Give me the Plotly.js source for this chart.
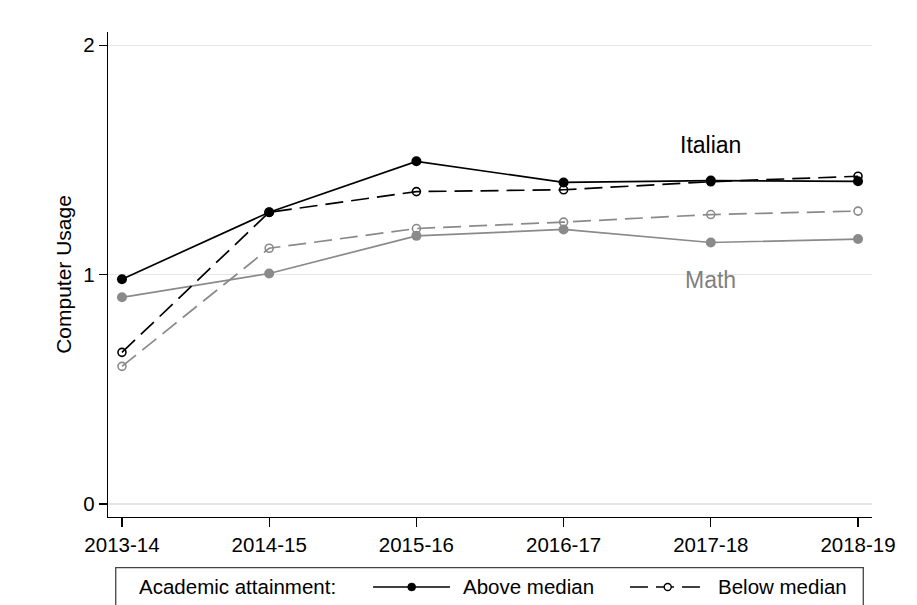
<!DOCTYPE html>
<html>
<head>
<meta charset="utf-8">
<script src="https://cdn.plot.ly/plotly-3.0.1.min.js"></script>
<style>
  html, body { margin: 0; padding: 0; background: #fff; }
  #chart { width: 917px; height: 605px; }
</style>
</head>
<body>
<div id="chart"></div>
<script>
// School years on the horizontal axis
const years = ["2013-14", "2014-15", "2015-16", "2016-17", "2017-18", "2018-19"];

// Computer usage by subject and academic attainment group
const italianAbove = [0.98, 1.272, 1.494, 1.402, 1.410, 1.407];
const italianBelow = [0.661, 1.272, 1.362, 1.370, 1.405, 1.429];
const mathAbove    = [0.901, 1.005, 1.169, 1.197, 1.140, 1.155];
const mathBelow    = [0.600, 1.115, 1.201, 1.229, 1.262, 1.277];

const yTicks = [0, 1, 2];

// Legend wording
const legendTitle = "Academic attainment:";
const legendLabels = ["Above median", "Below median"];

const BLACK = "#000000";
const GRAY = "#8a8a8a";
const FONT = "Liberation Sans, Arial, Helvetica, sans-serif";
const DASH = "18px,8px";
const LINE_W = 1.7;

function series(y, color, filled, dashed, name) {
  return {
    type: "scatter",
    mode: "lines+markers",
    x: years,
    y: y,
    name: name,
    showlegend: false,
    line: { color: color, width: LINE_W, dash: dashed ? DASH : "solid" },
    marker: filled
      ? { symbol: "circle", size: 10, color: color, line: { width: 0 } }
      : { symbol: "circle-open", size: 8, color: color, line: { width: 1.6, color: color } },
    hoverinfo: "x+y"
  };
}

const traces = [
  series(mathAbove, GRAY, true, false, "Math, above median"),
  series(mathBelow, GRAY, false, true, "Math, below median"),
  series(italianAbove, BLACK, true, false, "Italian, above median"),
  series(italianBelow, BLACK, false, true, "Italian, below median")
];

// Legend box below the plot (paper coordinates), with line keys in the series styles
const KEY_Y = -0.1443;
const legendShapes = [
  { type: "rect", xref: "paper", yref: "paper", x0: 0.0101, x1: 0.9886, y0: -0.1045, y1: -0.23,
    line: { color: "#444", width: 1.3 }, fillcolor: "rgba(0,0,0,0)", layer: "above" },
  { type: "line", xref: "paper", yref: "paper", x0: 0.3469, x1: 0.4476, y0: KEY_Y, y1: KEY_Y,
    line: { color: BLACK, width: LINE_W } },
  { type: "circle", xref: "paper", yref: "paper", xsizemode: "pixel", ysizemode: "pixel",
    xanchor: 0.3975, yanchor: KEY_Y, x0: -4, x1: 4, y0: -4, y1: 4,
    fillcolor: BLACK, line: { color: BLACK, width: 0.5 } },
  { type: "line", xref: "paper", yref: "paper", x0: 0.6832, x1: 0.7827, y0: KEY_Y, y1: KEY_Y,
    line: { color: BLACK, width: LINE_W, dash: DASH } },
  { type: "circle", xref: "paper", yref: "paper", xsizemode: "pixel", ysizemode: "pixel",
    xanchor: 0.7326, yanchor: KEY_Y, x0: -3.5, x1: 3.5, y0: -3.5, y1: 3.5,
    fillcolor: "#ffffff", line: { color: BLACK, width: 1.4 } }
];

const legendText = [
  { text: legendTitle, x: 0.0380 },
  { text: legendLabels[0], x: 0.4620 },
  { text: legendLabels[1], x: 0.7958 }
].map(t => ({
  x: t.x, y: KEY_Y, xref: "paper", yref: "paper", xanchor: "left", yanchor: "middle",
  text: t.text, showarrow: false, font: { family: FONT, size: 20.5, color: "#000" }
}));

const layout = {
  width: 917,
  height: 605,
  paper_bgcolor: "#ffffff",
  plot_bgcolor: "#ffffff",
  font: { family: FONT, size: 20.5, color: "#000" },
  margin: { l: 108, r: 45, t: 32, b: 88, pad: 0 },
  showlegend: false,
  xaxis: {
    type: "category",
    range: [-0.095, 5.095],
    tickvals: years,
    ticktext: years,
    showgrid: false,
    zeroline: false,
    showline: true,
    linecolor: "#000",
    linewidth: 1.3,
    ticks: "outside",
    ticklen: 9,
    tickwidth: 1.3,
    tickcolor: "#000",
    tickfont: { family: FONT, size: 20.5, color: "#000" },
    automargin: false,
    fixedrange: true
  },
  yaxis: {
    range: [-0.057, 2.058],
    tickvals: yTicks,
    ticktext: yTicks.map(String),
    showgrid: true,
    gridcolor: "#e6e6e6",
    gridwidth: 1.5,
    zeroline: false,
    showline: true,
    linecolor: "#000",
    linewidth: 1.3,
    ticks: "outside",
    ticklen: 8,
    tickwidth: 1.3,
    tickcolor: "#000",
    tickfont: { family: FONT, size: 20.5, color: "#000" },
    title: { text: "Computer Usage", font: { family: FONT, size: 21, color: "#000" }, standoff: 5 },
    automargin: false,
    fixedrange: true
  },
  shapes: legendShapes,
  annotations: [
    { x: "2017-18", y: 1.564, xref: "x", yref: "y", text: "Italian", showarrow: false,
      font: { family: FONT, size: 23, color: "#000" } },
    { x: "2017-18", y: 0.976, xref: "x", yref: "y", text: "Math", showarrow: false,
      font: { family: FONT, size: 23, color: "#7f7f7f" } }
  ].concat(legendText)
};

Plotly.newPlot("chart", traces, layout, { displayModeBar: false, staticPlot: true });
</script>
</body>
</html>
